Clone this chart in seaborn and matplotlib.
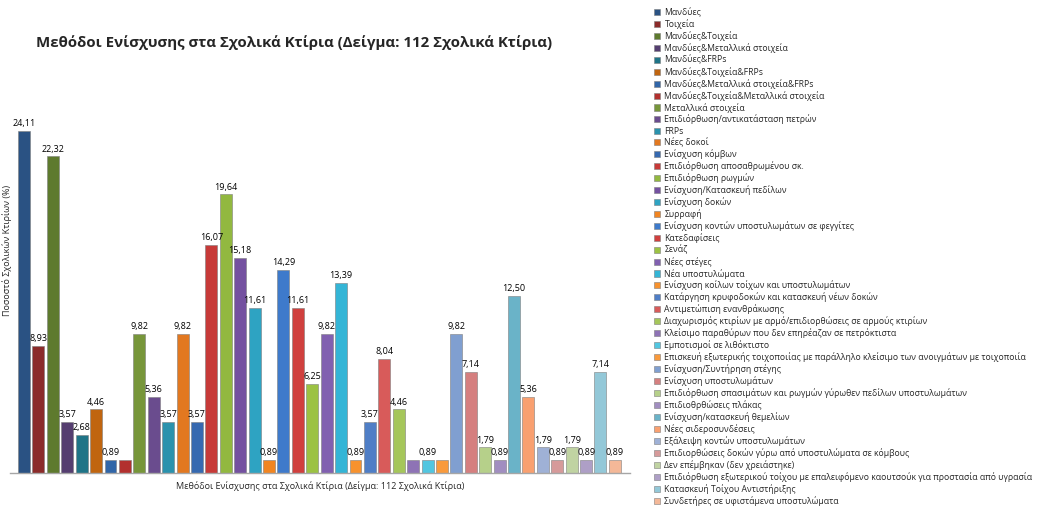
import matplotlib
matplotlib.use("Agg")
import matplotlib.pyplot as plt
import seaborn as sns
import pandas as pd

# 1. DATOS
methods = [
    "Μανδύες",
    "Τοιχεία",
    "Μανδύες&Τοιχεία",
    "Μανδύες&Μεταλλικά στοιχεία",
    "Μανδύες&FRPs",
    "Μανδύες&Τοιχεία&FRPs",
    "Μανδύες&Μεταλλικά στοιχεία&FRPs",
    "Μανδύες&Τοιχεία&Μεταλλικά στοιχεία",
    "Μεταλλικά στοιχεία",
    "Επιδιόρθωση/αντικατάσταση πετρών",
    "FRPs",
    "Νέες δοκοί",
    "Ενίσχυση κόμβων",
    "Επιδιόρθωση αποσαθρωμένου σκ.",
    "Επιδιόρθωση ρωγμών",
    "Ενίσχυση/Κατασκευή πεδίλων",
    "Ενίσχυση δοκών",
    "Συρραφή",
    "Ενίσχυση κοντών υποστυλωμάτων σε φεγγίτες",
    "Κατεδαφίσεις",
    "Σενάζ",
    "Νέες στέγες",
    "Νέα υποστυλώματα",
    "Ενίσχυση κοίλων τοίχων και υποστυλωμάτων",
    "Κατάργηση κρυφοδοκών και κατασκευή νέων δοκών",
    "Αντιμετώπιση ενανθράκωσης",
    "Διαχωρισμός κτιρίων με αρμό/επιδιορθώσεις σε αρμούς κτιρίων",
    "Κλείσιμο παραθύρων που δεν επηρέαζαν σε πετρόκτιστα",
    "Εμποτισμοί σε λιθόκτιστο",
    "Επισκευή εξωτερικής τοιχοποιίας με παράλληλο κλείσιμο των ανοιγμάτων με τοιχοποιία",
    "Ενίσχυση/Συντήρηση στέγης",
    "Ενίσχυση υποστυλωμάτων",
    "Επιδιόρθωση σπασιμάτων και ρωγμών γύρωθεν πεδίλων υποστυλωμάτων",
    "Επιδιοθρθώσεις πλάκας",
    "Ενίσχυση/κατασκευή θεμελίων",
    "Νέες σιδεροσυνδέσεις",
    "Εξάλειψη κοντών υποστυλωμάτων",
    "Επιδιορθώσεις δοκών γύρω από υποστυλώματα σε κόμβους",
    "Δεν επέμβηκαν (δεν χρειάστηκε)",
    "Επιδιόρθωση εξωτερικού τοίχου με επαλειφόμενο καουτσούκ για προστασία από υγρασία",
    "Κατασκευή Τοίχου Αντιστήριξης",
    "Συνδετήρες σε υφιστάμενα υποστυλώματα",
]

percent = [
    24.11, 8.93, 22.32, 3.57, 2.68, 4.46,
    0.89, 0.89, 9.82, 5.36, 3.57, 9.82,
    3.57, 16.07, 19.64, 15.18, 11.61, 0.89,
    14.29, 11.61, 6.25, 9.82, 13.39, 0.89,
    3.57, 8.04, 4.46, 0.89, 0.89, 0.89,
    9.82, 7.14, 1.79, 0.89, 12.50, 5.36,
    1.79, 0.89, 1.79, 0.89, 7.14, 0.89,
]

# barras sin etiqueta en el original
sin_etiqueta = [7, 27, 29]

colores = [
    "#2A5283", "#8B2B2A", "#5E7A2E", "#553E70", "#1F7487", "#C0650F",
    "#3166A8", "#B2302E", "#77963A", "#6A4C8E", "#2A92AD", "#E27820",
    "#3669B0", "#C73A38", "#92B840", "#7451A0", "#2EA3C2", "#F18521",
    "#3E7ACB", "#D0403E", "#9CC243", "#8160B0", "#34B5D6", "#F7922E",
    "#4F7EC6", "#D85B5A", "#A5C65A", "#8E73B5", "#52C6E0", "#F99A3C",
    "#809FD0", "#D57F7F", "#B6D08A", "#A18EC0", "#6AB3C8", "#F9A070",
    "#9FB1D6", "#D69A9A", "#C0D3A2", "#AE9FC6", "#93C8D8", "#F4B898",
]

titulo = "Μεθόδοι Ενίσχυσης στα Σχολικά Κτίρια (Δείγμα: 112 Σχολικά Κτίρια)"

df = pd.DataFrame({"metodo": methods, "pct": percent})

# 2. FIGURA
sns.set_style("white")
plt.rcParams["font.family"] = ["Open Sans", "DejaVu Sans"]

fig = plt.figure(figsize=(10.47, 5.07), dpi=100)
ax = fig.add_axes([0.0096, 0.0677, 0.592, 0.7266])

sns.barplot(
    data=df,
    x="metodo",
    y="pct",
    hue="metodo",
    palette=colores,
    saturation=1,
    width=0.83,
    legend=True,
    edgecolor="#7F7F7F",
    linewidth=0.4,
    ax=ax,
)

# etiquetas de valor
for i, cont in enumerate(ax.containers):
    etiqueta = "" if i in sin_etiqueta else f"{percent[i]:.2f}".replace(".", ",")
    ax.bar_label(cont, labels=[etiqueta], padding=2, fontsize=6.5, color="black")

ax.set_ylim(0, 26)
ax.set_xlim(-0.97, 42.04)
ax.set_xticks([])
ax.set_yticks([])
ax.set_xlabel(titulo, fontsize=6.5, labelpad=6)
ax.set_ylabel("")
for s in ["top", "right", "left"]:
    ax.spines[s].set_visible(False)
ax.spines["bottom"].set_color("#A6A6A6")
ax.spines["bottom"].set_linewidth(1.0)

fig.text(0.007, 0.507, "Ποσοστό Σχολικών Κτιρίων (%)", rotation=90,
         ha="center", va="center", fontsize=6.5)

fig.text(0.0345, 0.917, titulo, fontsize=10.8, fontweight="bold",
         ha="left", va="center")

sns.move_legend(
    ax,
    "upper left",
    bbox_to_anchor=(0.619, 0.997),
    bbox_transform=fig.transFigure,
    frameon=False,
    title=None,
    fontsize=6.2,
    handlelength=0.7,
    handleheight=0.7,
    handletextpad=0.5,
    labelspacing=0.245,
    borderpad=0.2,
)

fig.savefig("out.png", dpi=100, facecolor="white", edgecolor="#BFBFBF")
